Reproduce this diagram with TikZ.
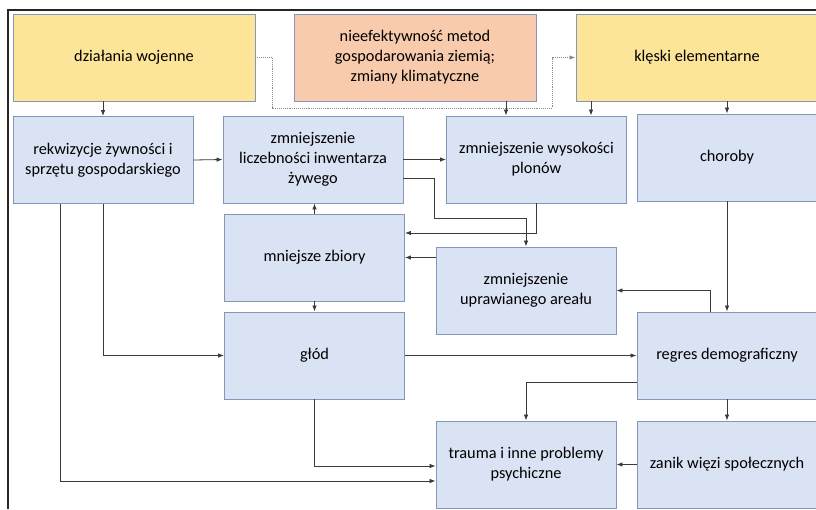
\documentclass[tikz,border=0pt]{standalone}
\usepackage{fontspec}
\setmainfont{Carlito}
\usepackage{xcolor}
\usetikzlibrary{arrows.meta}

\definecolor{boxblue}{HTML}{DAE3F3}
\definecolor{boxyellow}{HTML}{FCE599}
\definecolor{boxpeach}{HTML}{F8CBAD}
\definecolor{boxline}{HTML}{8497B8}
\definecolor{linkgray}{HTML}{3A3A3A}

\tikzset{
    box/.style={rectangle, draw=boxline, line width=0.9pt, fill=boxblue,
        minimum width=180pt, minimum height=87pt, inner sep=2pt, align=center,
        font=\fontsize{16.3}{20}\selectfont, text=black},
    widebox/.style={box, minimum width=242pt},
    link/.style={draw=linkgray, line width=0.8pt, -{Latex[length=6pt,width=4.5pt]}},
    hint/.style={draw=black!45, line width=0.9pt, densely dotted, -{Latex[length=6pt,width=4.5pt]}}
}

\begin{document}
\begin{tikzpicture}[x=1pt,y=-1pt]
    \useasboundingbox (0,0) rectangle (816,509);
    \draw[line width=1.6pt, black!85] (816,10) -- (8,10) -- (8,509);

    % causes
    \draw (134,57.5) node (wojna) [widebox, fill=boxyellow] {działania wojenne};
    \draw (415,57.5) node (metody) [widebox, fill=boxpeach] {nieefektywność metod\\gospodarowania ziemią;\\zmiany klimatyczne};
    \draw (697,57.5) node (kleski) [widebox, fill=boxyellow] {klęski elementarne};

    % effects
    \draw (103,160) node (rekw) [box] {rekwizycje żywności i\\sprzętu gospodarskiego};
    \draw (313,159.5) node (inwentarz) [box] {zmniejszenie\\liczebności inwentarza\\żywego};
    \draw (536.5,159.5) node (plony) [box] {zmniejszenie wysokości\\plonów};
    \draw (727,157.5) node (choroby) [box] {choroby};
    \draw (314.5,257.5) node (zbiory) [box] {mniejsze zbiory};
    \draw (526,290.5) node (areal) [box] {zmniejszenie\\uprawianego areału};
    \draw (314.5,355.5) node (glod) [box] {głód};
    \draw (727,355.5) node (regres) [box] {regres demograficzny};
    \draw (526,464.5) node (trauma) [box] {trauma i inne problemy\\psychiczne};
    \draw (727,464.5) node (zanik) [box] {zanik więzi społecznych};

    \coordinate (dotA) at (272,57.5);
    \coordinate (dotB) at (552,108);

    \draw[hint] (wojna.east) -- (dotA) |- (dotB) |- (kleski.west);

    \draw[link] (rekw.north |- wojna.south) -- (rekw.north);
    \draw[link] (rekw.east) -- (inwentarz.west);
    \draw[link] (inwentarz.east) -- (plony.west);
    \draw[link] ([xshift=-30.5pt]plony.north |- metody.south) -- ([xshift=-30.5pt]plony.north);
    \draw[link] ([xshift=54.5pt]plony.north |- kleski.south) -- ([xshift=54.5pt]plony.north);
    \draw[link] (choroby.north |- kleski.south) -- (choroby.north);
    \draw[link] ([yshift=-18.5pt]inwentarz.east) -- ++(31,0) |- ([yshift=28pt]areal.north) -- (areal.north);
    \draw[link] (plony.south) |- ([yshift=24.5pt]zbiory.east);
    \draw[link] (zbiory.east -| areal.west) -- (zbiory.east);
    \draw[link] (zbiory.north) -- (zbiory.north |- inwentarz.south);
    \draw[link] (zbiory.south) -- (glod.north);
    \draw[link] (rekw.south) |- (glod.west);
    \draw[link] ([xshift=-43pt]rekw.south) |- ([yshift=-16.5pt]trauma.west);
    \draw[link] (glod.south) |- ([yshift=-1.5pt]trauma.west);
    \draw[link] (glod.east) -- (regres.west);
    \draw[link] (choroby.south) -- (regres.north);
    \draw[link] ([xshift=-17pt]regres.north) |- (areal.east);
    \draw[link] ([yshift=-26.5pt]regres.west) -| (trauma.north);
    \draw[link] (regres.south) -- (zanik.north);
    \draw[link] (zanik.west) -- (trauma.east);
\end{tikzpicture}
\end{document}
